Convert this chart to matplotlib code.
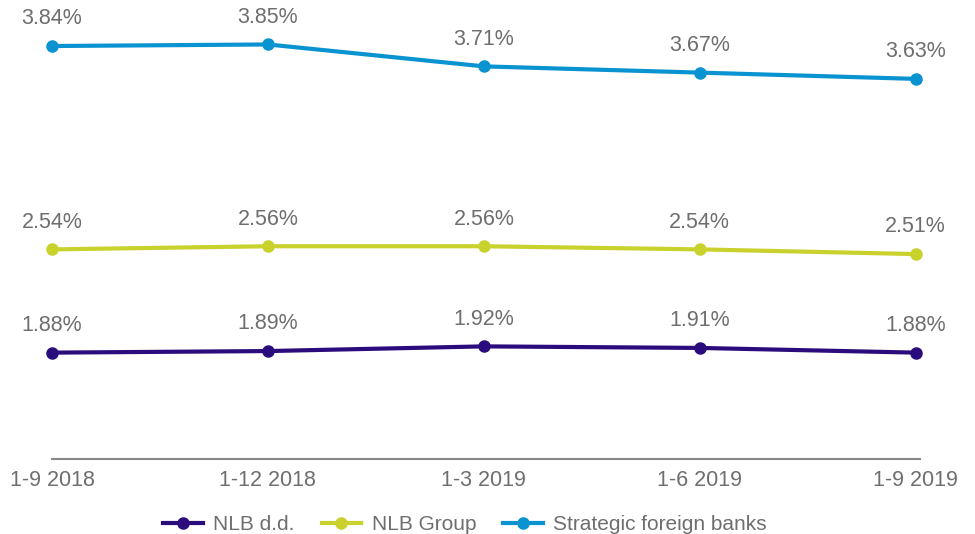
import numpy as np
import matplotlib.pyplot as plt

plt.rcParams['font.family'] = ['Liberation Sans', 'DejaVu Sans']

periods = ['1-9 2018', '1-12 2018', '1-3 2019', '1-6 2019', '1-9 2019']
nlb_dd = [1.88, 1.89, 1.92, 1.91, 1.88]
nlb_group = [2.54, 2.56, 2.56, 2.54, 2.51]
foreign = [3.84, 3.85, 3.71, 3.67, 3.63]

series = [
    ('NLB d.d.', nlb_dd, '#2B0C7C'),
    ('NLB Group', nlb_group, '#C9D22C'),
    ('Strategic foreign banks', foreign, '#0A93D1'),
]
grey = '#6E6E6E'
fs = 15.5

fig = plt.figure(figsize=(9.75, 5.34), dpi=100)
ax = fig.add_axes([52/975, 1-459/534, (920-52)/975, (459-21)/534])

x = np.arange(len(periods))
for name, vals, col in series:
    ax.plot(x, vals, color=col, lw=3, marker='o', ms=8, label=name,
            clip_on=False, zorder=3)
    for xi, v in zip(x, vals):
        ax.annotate(f'{v:.2f}%', (xi, v), xytext=(0, 12), textcoords='offset points',
                    ha='center', va='bottom', fontsize=fs, color=grey)

ax.set_xlim(0, 4.02)
ax.set_ylim(1.2, 4.0)
ax.set_yticks([])
ax.set_xticks(x)
ax.set_xticklabels(periods, fontsize=fs, color=grey)
ax.tick_params(axis='x', length=0, pad=8)
for s in ['top', 'right', 'left']:
    ax.spines[s].set_visible(False)
ax.spines['bottom'].set_color('#888888')
ax.spines['bottom'].set_linewidth(1.5)

fig.legend(loc='lower center', bbox_to_anchor=(0.477, -0.036), ncol=3, frameon=False,
           fontsize=15, labelcolor=grey, handlelength=1.9, columnspacing=1.3,
           handletextpad=0.5)

fig.savefig('out.png', dpi=100)
